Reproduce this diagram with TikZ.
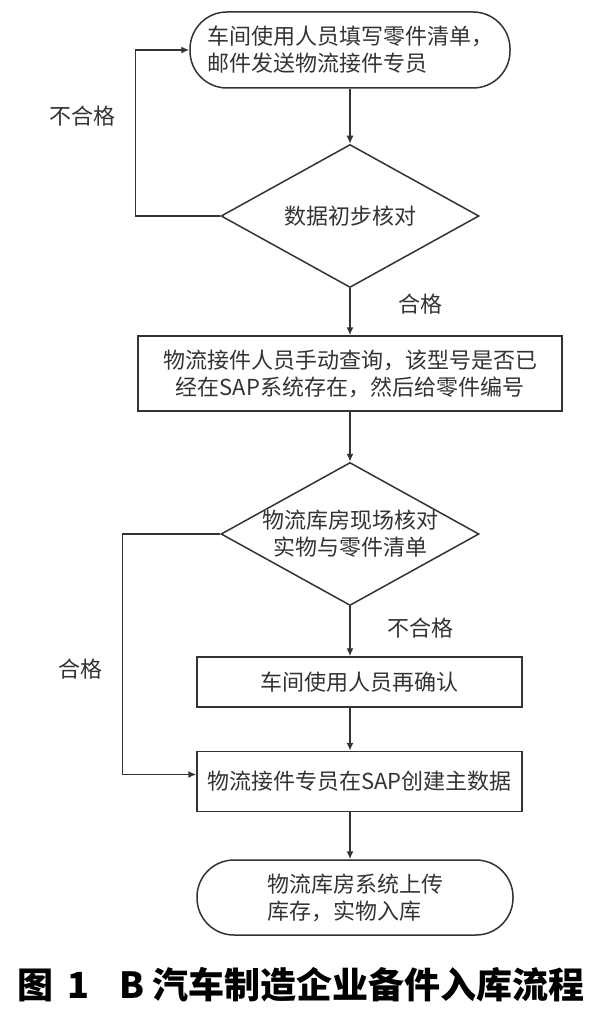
\documentclass[tikz,border=0pt]{standalone}
\usepackage{fontspec}
\setmainfont{Noto Sans CJK SC}
\usetikzlibrary{arrows.meta, positioning, calc, shapes.geometric}

\begin{document}
\begin{tikzpicture}[
x=1pt, y=-1pt,
font=\fontsize{22}{27}\selectfont,
color=black!80,
terminal/.style={
rectangle, rounded corners=37pt,
draw, line width=1.5pt, align=left,
inner sep=2pt
},
process/.style={
rectangle,
draw, line width=1.5pt,
align=center, inner sep=2pt
},
decision/.style={
diamond,
draw, line width=1.5pt,
aspect=1.8,
align=center,
inner sep=-10pt,
minimum width=258pt, minimum height=143pt
},
label/.style={inner sep=2pt},
arrow/.style={-{Latex[length=8pt,width=7pt]}, line width=1.5pt}
]
\useasboundingbox (0,0) rectangle (600,1016);

\node[terminal, minimum width=320pt, minimum height=76pt] (start) at (350,50)
{车间使用人员填写零件清单，\\邮件发送物流接件专员};

\node[decision, below=55pt of start] (check1) {数据初步核对};

\node[process, below=47pt of check1, minimum width=424pt, minimum height=75pt] (query)
{物流接件人员手动查询，该型号是否已\\经在SAP系统存在，然后给零件编号};

\node[decision, below=50pt of query] (check2)
{物流库房现场核对\\实物与零件清单};

\node[process, below=50pt of check2, xshift=9.5pt, minimum width=325pt, minimum height=50pt] (confirm)
{车间使用人员再确认};

\node[process, below=43pt of confirm, minimum width=325pt, minimum height=60pt] (create)
{物流接件专员在SAP创建主数据};

\node[terminal, below=47pt of create, xshift=-4.5pt, minimum width=316pt, minimum height=75pt] (finish)
{物流库房系统上传\\库存，实物入库};

\node[font=\fontsize{36}{42}\selectfont\bfseries, text=black] (caption) at (301,985)
{图\hspace{14pt}1\hspace{30pt}B\hspace{8pt}汽车制造企业备件入库流程};

\draw[arrow] (start) -- (check1);
\draw[arrow] (check1.west) -- ++(-85pt,0) |- node[label, pos=0.3, left=17pt] {不合格} (start.west);

\draw[arrow] (check1) -- node[label, pos=0.33, right=46pt] {合格} (query);
\draw[arrow] (query) -- (check2);

\draw[arrow] (check2.south) -- node[label, pos=0.43, right=35pt] {不合格} (check2.south |- confirm.north);
\draw[arrow] (check2.west) -- ++(-98pt,0) |- node[label, pos=0.28, left=17pt] {合格} ([yshift=7pt]create.west);

\draw[arrow] (check2.south |- confirm.south) -- (check2.south |- create.north);
\draw[arrow] (check2.south |- create.south) -- (check2.south |- finish.north);

\end{tikzpicture}
\end{document}
